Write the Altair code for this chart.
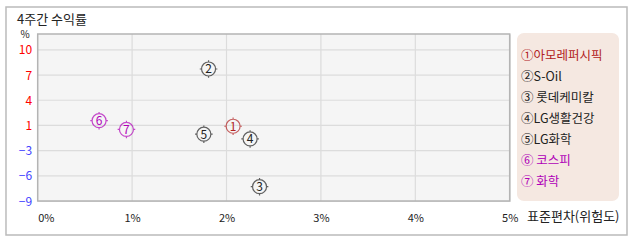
import altair as alt
import pandas as pd

# ---- data ----
nums = ["1", "2", "3", "4", "5", "6", "7"]
names = ["①아모레퍼시픽", "②S-Oil", "③ 롯데케미칼", "④LG생활건강", "⑤LG화학", "⑥ 코스피", "⑦ 화학"]
risk = [2.07, 1.81, 2.35, 2.25, 1.76, 0.65, 0.94]        # 표준편차 (%)
ret = [0.4, 7.6, -7.2, -1.2, -0.6, 1.1, 0.0]              # 4주간 수익률 (%)
colors = ["#b22222", "#222222", "#222222", "#222222", "#222222", "#b000b8", "#b000b8"]
y_ticks = [-9, -5.8333, -2.6667, 0.5, 3.6667, 6.8333, 10]
x_ticks = [0, 1, 2, 3, 4, 5]

FONT = "Noto Sans CJK KR"
W, H = 472, 167
L, T = 37.7, 34

df = pd.DataFrame({"num": nums, "name": names, "risk": risk, "ret": ret,
                   "color": colors, "idx": list(range(len(nums)))})
one = pd.DataFrame({"a": [0]})
xgrid = pd.DataFrame({"v": x_ticks[1:-1]})
ygrid = pd.DataFrame({"v": y_ticks[1:]})

xs = alt.Scale(domain=[0, 5], nice=False, zero=False)
ys = alt.Scale(domain=[-9, 12.0], nice=False, zero=False)

frame = alt.Chart(one).mark_rect(fill="transparent", stroke="#bbbbbb", strokeWidth=1.5).encode(
    x=alt.value(6 - L), x2=alt.value(627 - L), y=alt.value(7 - T), y2=alt.value(235 - T))

plot_bg = alt.Chart(one).mark_rect(fill="#f5f5f5").encode(
    x=alt.value(0), x2=alt.value(W), y=alt.value(0), y2=alt.value(H))

plot_border = alt.Chart(one).mark_rect(fill="transparent", stroke="#b4b4b4", strokeWidth=1.5).encode(
    x=alt.value(0), x2=alt.value(W), y=alt.value(0), y2=alt.value(H))

legend_bg = alt.Chart(one).mark_rect(fill="#f5e8e1", cornerRadius=7).encode(
    x=alt.value(517 - L), x2=alt.value(619 - L), y=alt.value(33 - T), y2=alt.value(201 - T))

vgrid = alt.Chart(xgrid).mark_rule(color="#dcdcdc", strokeWidth=1.2).encode(
    x=alt.X("v:Q", scale=xs, title=None))
hgrid = alt.Chart(ygrid).mark_rule(color="#dcdcdc", strokeWidth=1.2).encode(
    y=alt.Y("v:Q", scale=ys, axis=None))

base = alt.Chart(df)

axis_layer = base.mark_point(opacity=0).encode(
    x=alt.X("risk:Q", scale=xs, title=None,
            axis=alt.Axis(values=x_ticks, labelExpr="datum.value + '%'", grid=False,
                          domain=False, ticks=False, labelPadding=11, labelFlush=False,
                          labelAlign=alt.condition("datum.value == 0", alt.value("left"), alt.value("center")),
                          labelFontSize=11, labelColor="#222", labelFont=FONT)),
    y=alt.Y("ret:Q", scale=ys, title=None,
            axis=alt.Axis(values=y_ticks, labelExpr="format(round(datum.value), 'd')", grid=False,
                          domain=False, ticks=False, labelPadding=6,
                          labelFontSize=12, labelFont=FONT,
                          labelColor=alt.condition("datum.value > 0", alt.value("#ff0000"), alt.value("#4444ff")))),
)

marker_path = ("M0.875,0A0.875,0.875 0 1,1 -0.875,0A0.875,0.875 0 1,1 0.875,0Z"
               "M0,-0.875L0,-1.1M0,0.875L0,1.1M-0.875,0L-1.1,0M0.875,0L1.1,0")
markers = base.mark_point(shape=marker_path, filled=False, size=256, strokeWidth=1.2).encode(
    x=alt.X("risk:Q", scale=xs, title=None),
    y=alt.Y("ret:Q", scale=ys, axis=None),
    color=alt.Color("color:N", scale=None),
)
digits = base.mark_text(fontSize=12, font=FONT, align="center", baseline="middle", dy=0.5).encode(
    x=alt.X("risk:Q", scale=xs, title=None),
    y=alt.Y("ret:Q", scale=ys, axis=None),
    text="num:N",
    color=alt.Color("color:N", scale=None),
)

legend_text = base.mark_text(fontSize=12.5, font=FONT, align="left", baseline="middle").encode(
    x=alt.value(521 - L),
    y=alt.Y("idx:Q", scale=alt.Scale(domain=[0, 6], range=[56 - T, 182 - T]), axis=None),
    text="name:N",
    color=alt.Color("color:N", scale=None),
)

title_t = alt.Chart(one).mark_text(text="4주간 수익률", fontSize=13, font=FONT, align="left",
                                   baseline="middle", color="#222").encode(
    x=alt.value(17 - L), y=alt.value(19.5 - T))
pct_t = alt.Chart(one).mark_text(text="%", fontSize=10, font=FONT, align="center",
                                 baseline="middle", color="#222").encode(
    x=alt.value(25 - L), y=alt.value(35 - T))
xtitle_t = alt.Chart(one).mark_text(text="표준편차(위험도)", fontSize=13, font=FONT, align="left",
                                    baseline="middle", color="#222").encode(
    x=alt.value(527 - L), y=alt.value(217 - T))

chart = alt.layer(frame, plot_bg, vgrid, hgrid, plot_border, legend_bg, axis_layer, markers, digits,
                  legend_text, title_t, pct_t, xtitle_t).resolve_scale(y="independent").properties(
    width=W, height=H,
    autosize=alt.AutoSizeParams(type="none"),
    padding={"left": L, "top": T, "right": 638 - L - W, "bottom": 242 - T - H},
).configure_view(stroke=None).configure(background="white")

chart.save("out.html", embed_options={"renderer": "svg", "actions": False})
